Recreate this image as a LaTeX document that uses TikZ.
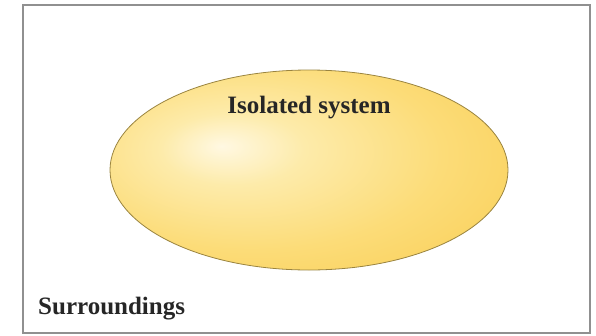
\documentclass[tikz,border=0pt]{standalone}
\usepackage{fontspec}
\setmainfont{Liberation Serif}
\usetikzlibrary{shapes.geometric}

\definecolor{framegray}{HTML}{909090}
\definecolor{rimline}{HTML}{9A8440}
\definecolor{glowhi}{HTML}{FFF8E2}
\definecolor{glowpale}{HTML}{FDEBAA}
\definecolor{glowmid}{HTML}{FCDC78}
\definecolor{glowgold}{HTML}{F9D05A}
\definecolor{glowedge}{HTML}{F4C03C}

\pgfdeclareradialshading{sysglow}{\pgfpoint{-11bp}{6bp}}{%
  color(0bp)=(glowhi); color(9bp)=(glowpale); color(24bp)=(glowmid);
  color(38bp)=(glowgold); color(46bp)=(glowedge); color(70bp)=(glowedge)}

\tikzset{
  system/.style={ellipse, draw=rimline, line width=0.8pt, shading=sysglow,
    minimum width=398pt, minimum height=200pt, inner sep=0pt},
  label/.style={font=\bfseries\fontsize{25}{28}\selectfont, text=black!85, inner sep=0pt}
}

\begin{document}
\begin{tikzpicture}[x=1pt,y=-1pt]
        \useasboundingbox (0,0) rectangle (596,335);
        \draw[framegray, line width=1.1pt] (23,5) rectangle (590,333);

        \node[system] at (309,170)(iso){};
        \node[label, anchor=base] at (309,113)(isolabel){Isolated system};
        \node[label, anchor=base west] at (38,314)(surr){Surroundings};
    \end{tikzpicture}
\end{document}
